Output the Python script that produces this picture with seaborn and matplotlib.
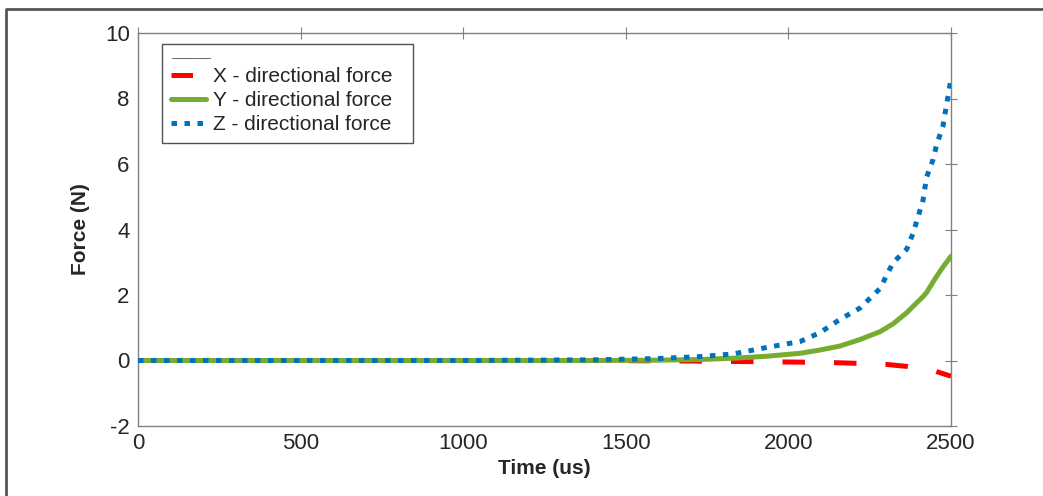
import numpy as np
import pandas as pd
import matplotlib
matplotlib.use('Agg')
import matplotlib.pyplot as plt
from matplotlib.lines import Line2D
import seaborn as sns

# force readings over time
time_us = [0, 500, 1000, 1400, 1600, 1730, 1830, 1934, 2036, 2097, 2158, 2220, 2282,
           2302, 2322, 2364, 2384, 2414, 2425, 2445, 2456, 2475, 2500]
force_x = [0, 0, 0, 0, -0.01, -0.02, -0.03, -0.04, -0.05, -0.06, -0.07, -0.09, -0.11,
           -0.12, -0.14, -0.18, -0.22, -0.25, -0.27, -0.3, -0.34, -0.4, -0.48]
force_y = [0, 0, 0, 0, 0.01, 0.03, 0.07, 0.13, 0.22, 0.32, 0.44, 0.64, 0.88,
           1.0, 1.12, 1.46, 1.66, 1.95, 2.08, 2.4, 2.57, 2.85, 3.18]
force_z = [0, 0, 0, 0.02, 0.06, 0.12, 0.2, 0.4, 0.58, 0.85, 1.25, 1.6, 2.2,
           2.6, 2.99, 3.4, 3.9, 4.9, 5.6, 6.14, 6.6, 7.15, 8.6]

labels = ['X - directional force', 'Y - directional force', 'Z - directional force']
colors = ['#ff0000', '#77ac30', '#0072bd']

df = pd.DataFrame({'Time': time_us, labels[0]: force_x, labels[1]: force_y, labels[2]: force_z})
long = df.melt(id_vars='Time', var_name='Series', value_name='Force')

sns.set_style('white')
plt.rcParams['font.family'] = ['Liberation Sans', 'DejaVu Sans']
plt.rcParams['axes.unicode_minus'] = False

fig = plt.figure(figsize=(10.43, 4.96), dpi=100)
ax = fig.add_axes([138 / 1043, 1 - 426 / 496, 813 / 1043, 393 / 496])

styles = [(5.0, (4.5, 5.8)), '-', (0, (1.1, 1.5))]
for lab, col, ls in zip(labels, colors, styles):
    sub = long[long['Series'] == lab]
    sns.lineplot(data=sub, x='Time', y='Force', ax=ax, color=col, lw=3.6,
                 linestyle=ls, legend=False, zorder=3)

ax.set_xlim(0, 2500)
ax.set_ylim(-2, 10)
ax.set_xticks(np.arange(0, 2501, 500))
ax.set_yticks(np.arange(-2, 11, 2))
ax.tick_params(direction='inout', length=8, width=0.8, color='#808080',
               labelsize=16, colors='#262626', top=True, right=True, pad=2)
ax.tick_params(axis='x', pad=1)
for s in ax.spines.values():
    s.set_color('#808080')
    s.set_linewidth(1.0)
ax.set_xlabel('Time (us)', fontsize=15, fontweight='bold', labelpad=4)
ax.set_ylabel('Force (N)', fontsize=15, fontweight='bold', labelpad=11)

leg_styles = [(1.2, (5.5, 10)), '-', (0, (1.1, 1.5))]
handles = [Line2D([], [], color=c, lw=3.6, linestyle=ls) for c, ls in zip(colors, leg_styles)]
leg = ax.legend(handles, [l + '  ' for l in labels], loc='upper left',
                bbox_to_anchor=(0.0295, 0.972), borderaxespad=0, fontsize=15,
                frameon=True, fancybox=False, borderpad=0.42,
                handlelength=1.7, handletextpad=0.35, labelspacing=0.25,
                title='\u2500' * 8, alignment='left',
                title_fontproperties={'size': 6, 'family': 'DejaVu Sans'})
leg.get_title().set_color('#444444')
leg.get_frame().set_edgecolor('#262626')
leg.get_frame().set_linewidth(1.0)

# outer frame of the figure (top and left only)
fig.add_artist(Line2D([6 / 1043, 6 / 1043, 1.0], [0.0, 1 - 9 / 496, 1 - 9 / 496],
                      transform=fig.transFigure, color='#555555', lw=2))

fig.savefig('out.png', dpi=100)
